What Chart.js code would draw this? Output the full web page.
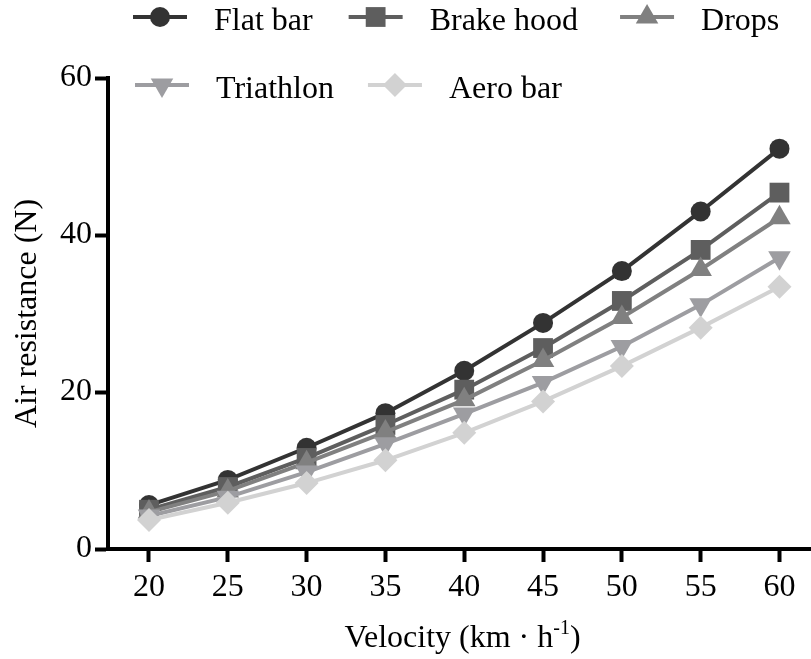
<!DOCTYPE html>
<html>
<head>
<meta charset="utf-8">
<script src="https://cdn.jsdelivr.net/npm/chart.js@4/dist/chart.umd.min.js"></script>
<style>
  html, body { margin: 0; padding: 0; background: #fff; }
  #wrap { width: 811px; height: 659px; }
</style>
</head>
<body>
<div id="wrap"><canvas id="drag-chart" width="811" height="659"></canvas></div>
<script>
/* Data: air resistance (N) against velocity for each riding position */
let velocity = [20, 25, 30, 35, 40, 45, 50, 55, 60]
let flatBar = [5.6, 8.8, 12.9, 17.3, 22.7, 28.8, 35.4, 43.0, 51.0]
let brakeHood = [5.0, 7.9, 11.6, 15.8, 20.3, 25.6, 31.6, 38.1, 45.4]
let drops = [4.7, 7.4, 11.0, 14.9, 19.0, 24.0, 29.5, 35.6, 42.2]
let triathlon = [4.2, 6.6, 9.8, 13.4, 17.2, 21.2, 25.8, 31.1, 37.1]
let aeroBar = [3.7, 5.9, 8.4, 11.3, 14.8, 18.8, 23.3, 28.2, 33.4]

let seriesNames = ['Flat bar', 'Brake hood', 'Drops', 'Triathlon', 'Aero bar']
let yTicks = [0, 20, 40, 60]

let FONT = "'Liberation Serif', 'DejaVu Serif', serif"

// Grey shades, marker shapes and sizes for each position
let styles = [
    { color: '#333333', shape: 'circle', radius: 10, rotation: 0 },
    { color: '#5e5e5e', shape: 'rect', radius: 14, rotation: 0 },
    { color: '#808080', shape: 'triangle', radius: 13, rotation: 0 },
    { color: '#9d9da1', shape: 'triangle', radius: 13, rotation: 180 },
    { color: '#d2d2d2', shape: 'rectRot', radius: 12, rotation: 0 }
]

let allSeries = [flatBar, brakeHood, drops, triathlon, aeroBar]

let datasets = allSeries.map(function(values, i) {
    let s = styles[i]
    return {
        label: seriesNames[i],
        data: values.map(function(v, j) { return { x: velocity[j], y: v } }),
        borderColor: s.color,
        backgroundColor: s.color,
        borderWidth: 4,
        pointStyle: s.shape,
        pointRadius: s.radius,
        pointRotation: s.rotation,
        pointBorderWidth: 0,
        pointBackgroundColor: s.color,
        // later series sit on top of earlier ones
        order: allSeries.length - i,
        tension: 0
    }
})

// Legend: line + marker + name, two rows, drawn on the canvas
let legendPlugin = {
    id: 'lineLegend',
    afterDraw: function(chart) {
        let ctx = chart.ctx
        let rows = [[0, 1, 2], [3, 4]]
        let rowY = [17, 85]
        let rowX = [133, 135]
        let gaps = [[36, 42], [34]]
        ctx.save()
        ctx.font = '32px ' + FONT
        ctx.textBaseline = 'alphabetic'
        rows.forEach(function(row, r) {
            let x = rowX[r]
            row.forEach(function(i, k) {
                let s = styles[i]
                let y = rowY[r]
                ctx.strokeStyle = s.color
                ctx.fillStyle = s.color
                ctx.lineWidth = 4
                ctx.beginPath()
                ctx.moveTo(x, y)
                ctx.lineTo(x + 54, y)
                ctx.stroke()
                Chart.helpers.drawPoint(ctx, {
                    pointStyle: s.shape,
                    radius: s.radius,
                    rotation: s.rotation,
                    borderWidth: 0
                }, x + 27, y)
                ctx.fillStyle = '#000'
                ctx.fillText(seriesNames[i], x + 81, y + 13)
                x += 81 + ctx.measureText(seriesNames[i]).width + (gaps[r][k] || 0)
            })
        })
        ctx.restore()
    }
}

// X axis title with a superscript unit
let xTitlePlugin = {
    id: 'xTitle',
    afterDraw: function(chart) {
        let ctx = chart.ctx
        let area = chart.chartArea
        let parts = [
            { text: 'Velocity (km \u00B7 h', size: 32, dy: 0 },
            { text: '-1', size: 20, dy: -13 },
            { text: ')', size: 32, dy: 0 }
        ]
        ctx.save()
        ctx.fillStyle = '#000'
        ctx.textBaseline = 'alphabetic'
        let total = 0
        parts.forEach(function(p) {
            ctx.font = p.size + 'px ' + FONT
            p.w = ctx.measureText(p.text).width
            total += p.w
        })
        let x = (area.left + area.right) / 2 + 3 - total / 2
        parts.forEach(function(p) {
            ctx.font = p.size + 'px ' + FONT
            ctx.fillText(p.text, x, 647 + p.dy)
            x += p.w
        })
        ctx.restore()
    }
}

let chartCanvas = document.querySelector('#drag-chart')
let ctx = chartCanvas.getContext('2d')

let dragChart = new Chart(ctx, {
    type: 'line',
    data: { datasets: datasets },
    options: {
        responsive: false,
        devicePixelRatio: 1,
        animation: false,
        // big markers would otherwise push the plot area in
        layout: { autoPadding: false, padding: { top: 78, right: 0, left: 0, bottom: 0 } },
        plugins: {
            legend: { display: false },
            tooltip: { enabled: false }
        },
        scales: {
            x: {
                type: 'linear',
                min: 17.4,
                max: 62,
                afterBuildTicks: function(scale) {
                    scale.ticks = velocity.map(function(v) { return { value: v } })
                },
                afterFit: function(scale) {
                    scale.height = 110
                    scale.paddingLeft = 0
                    scale.paddingRight = 0
                },
                border: { display: true, color: '#000', width: 4 },
                grid: {
                    drawOnChartArea: false,
                    drawTicks: true,
                    tickLength: 13,
                    tickWidth: 4,
                    tickColor: '#000'
                },
                ticks: {
                    color: '#000',
                    padding: 6,
                    maxRotation: 0,
                    autoSkip: false,
                    font: { family: FONT, size: 32 }
                }
            },
            y: {
                min: 0,
                max: 60,
                afterBuildTicks: function(scale) {
                    scale.ticks = yTicks.map(function(v) { return { value: v } })
                },
                afterFit: function(scale) {
                    scale.width = 108
                    scale.paddingTop = 0
                    scale.paddingBottom = 0
                },
                border: { display: true, color: '#000', width: 4 },
                grid: {
                    drawOnChartArea: false,
                    drawTicks: true,
                    tickLength: 13,
                    tickWidth: 4,
                    tickColor: '#000'
                },
                ticks: {
                    color: '#000',
                    padding: 3,
                    font: { family: FONT, size: 32 }
                },
                title: {
                    display: true,
                    text: 'Air resistance (N)',
                    color: '#000',
                    padding: { top: 8, bottom: 0 },
                    font: { family: FONT, size: 32 }
                }
            }
        }
    },
    plugins: [legendPlugin, xTitlePlugin]
})
</script>
</body>
</html>
